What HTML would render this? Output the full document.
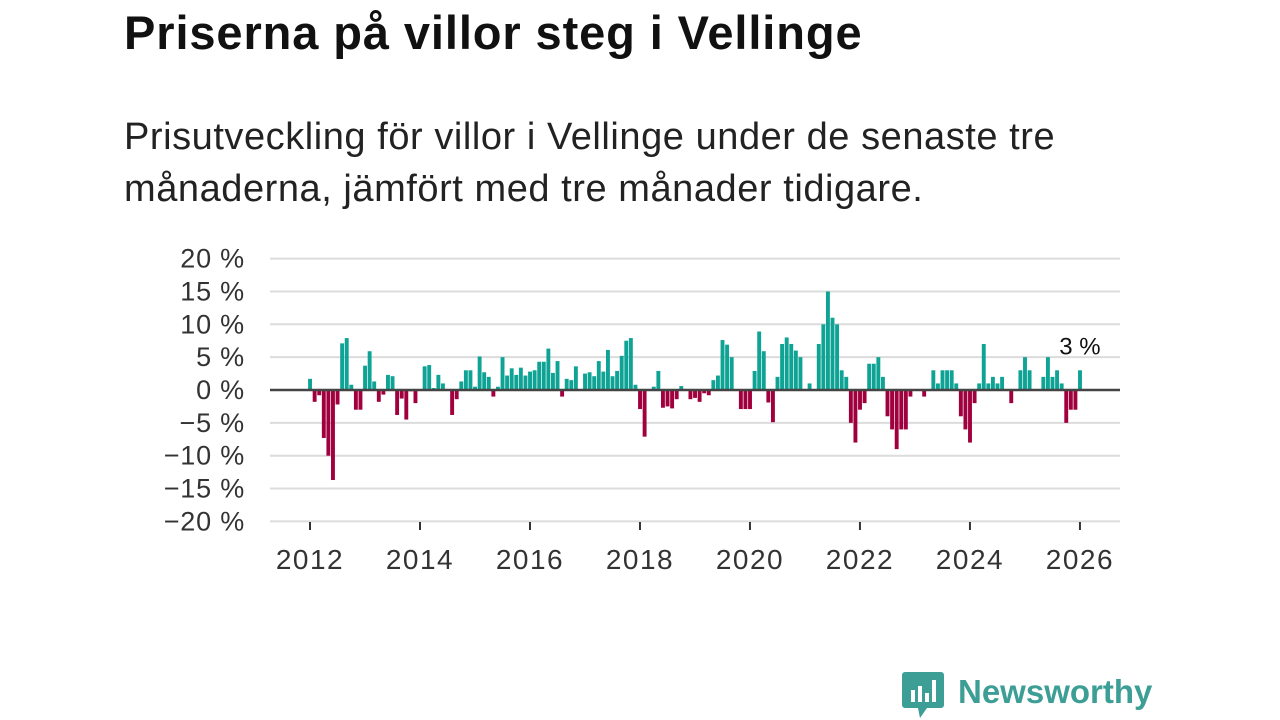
<!DOCTYPE html>
<html><head><meta charset="utf-8">
<style>
body{margin:0;width:1280px;height:720px;background:#fff;overflow:hidden;font-family:"Liberation Sans",sans-serif;}
#title{position:absolute;left:124px;top:5px;font-size:47px;font-weight:bold;color:#111;margin:0;letter-spacing:0.9px;line-height:56px}
#sub{position:absolute;left:124px;top:111px;font-size:38px;line-height:52px;color:#222;width:1100px;margin:0;letter-spacing:0.55px}
svg{position:absolute;left:0;top:0}
</style></head><body>
<h1 id="title">Priserna på villor steg i Vellinge</h1>
<p id="sub">Prisutveckling för villor i Vellinge under de senaste tre<br>månaderna, jämfört med tre månader tidigare.</p>
<svg id="chart" width="1280" height="720"></svg>
<script>
const startYear = 2012;
const values = [1.7,-1.8,-0.8,-7.3,-10,-13.7,-2.2,7.1,7.9,0.8,-3,-3,
3.7,5.9,1.3,-1.8,-0.7,2.3,2.1,-3.8,-1.3,-4.5,-0.2,-2,
0,3.6,3.8,0.3,2.3,1,0,-3.8,-1.4,1.3,3,3,
0.5,5.1,2.7,2,-1,0.5,5,2.2,3.3,2.3,3.4,2.2,
2.8,3,4.3,4.3,6.3,2.6,4.4,-1,1.7,1.5,3.6,0,
2.5,2.7,2.1,4.4,2.8,6.1,2.1,2.9,5.2,7.5,7.9,0.8,
-2.9,-7.1,0,0.5,2.9,-2.7,-2.5,-2.8,-1.4,0.6,0,-1.4,
-1.2,-1.8,-0.5,-0.8,1.5,2.2,7.6,6.9,5,0,-2.9,-2.9,
-2.9,2.9,8.9,5.9,-1.9,-4.9,2,7,8,7,6,5,
0,1,0,7,10,15,11,10,3,2,-5,-8,
-3,-2,4,4,5,2,-4,-6,-9,-6,-6,-1,
0,0,-1,0,3,1,3,3,3,1,-4,-6,
-8,-2,1,7,1,2,1,2,0,-2,0,3,
5,3,0,0,2,5,2,3,1,-5,-3,-3,
3];
const yTicks = [20,15,10,5,0,-5,-10,-15,-20];
const yTickLabels = ["20 %","15 %","10 %","5 %","0 %","−5 %","−10 %","−15 %","−20 %"];
const xTicks = [2012,2014,2016,2018,2020,2022,2024,2026];
const lastLabel = "3 %";

const NS="http://www.w3.org/2000/svg";
const svg=document.getElementById('chart');
const X0=310, MONTH=4.583, Y0=390, PPP=6.57;
const xm=m=>X0+m*MONTH;
const xy=yr=>X0+(yr-startYear)*12*MONTH;
const yv=v=>Y0-v*PPP;
function mk(t,a){const e=document.createElementNS(NS,t);for(const k in a)e.setAttribute(k,a[k]);svg.appendChild(e);return e;}

yTicks.forEach((t,i)=>{
  if(t!==0){const g=mk('line',{x1:270,x2:1120,y1:yv(t),y2:yv(t),stroke:'#dcdcdc','stroke-width':2});
  
  }
  const l=mk('text',{x:245,y:yv(t)+9,'text-anchor':'end','font-size':27,'letter-spacing':0.8,fill:'#333','font-family':'Liberation Sans, sans-serif'});
  l.textContent=yTickLabels[i];
  
  
});
xTicks.forEach(yr=>{
  const t=mk('line',{x1:xy(yr),x2:xy(yr),y1:522,y2:530,stroke:'#333','stroke-width':2});
  
  
  const l=mk('text',{x:xy(yr),y:569,'text-anchor':'middle','font-size':28,'letter-spacing':1.5,fill:'#333','font-family':'Liberation Sans, sans-serif'});
  l.textContent=yr;
  
  
});
values.forEach((v,m)=>{
  if(v===0)return;
  const x=xm(m)-1.9;
  const b=mk('rect',{x:x,width:3.9,y:Math.min(yv(v),Y0),height:Math.abs(v)*PPP,fill:v>0?'#0ea394':'#a0003d'});
  
  
});
const z=mk('line',{x1:270,x2:1120,y1:Y0,y2:Y0,stroke:'#444','stroke-width':2.5});


const last=values.length-1;
const ll=mk('text',{x:xm(last),y:yv(values[last])-16,'text-anchor':'middle','font-size':24,fill:'#111','font-family':'Liberation Sans, sans-serif'});
ll.textContent=lastLabel;


</script>
<svg width="1280" height="720" style="position:absolute;left:0;top:0;pointer-events:none">
  <path d="M905 672 h36 a3 3 0 0 1 3 3 v30 a3 3 0 0 1 -3 3 h-14 l-7 10 l-2 -10 h-13 a3 3 0 0 1 -3 -3 v-30 a3 3 0 0 1 3 -3z" fill="#3d9e96"/>
  <rect x="911" y="690" width="4" height="12" fill="#fff"/><rect x="918" y="686" width="4" height="16" fill="#fff"/><rect x="925" y="693" width="4" height="9" fill="#fff"/><rect x="932" y="680" width="4" height="22" fill="#fff"/>
  <text x="958" y="703" font-size="33" font-weight="bold" fill="#3d9e96" font-family="Liberation Sans, sans-serif">Newsworthy</text>
</svg>
</body></html>
